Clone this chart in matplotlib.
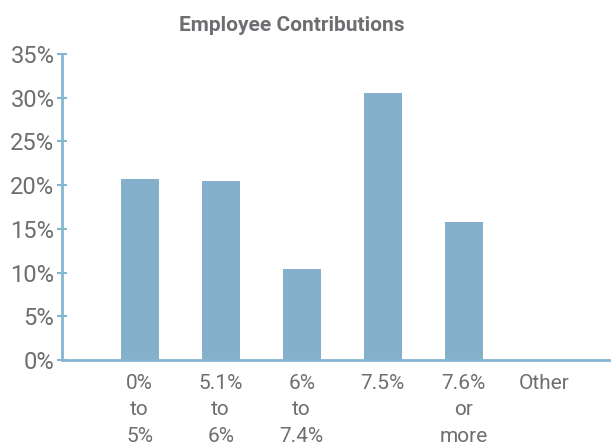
import matplotlib
matplotlib.use("Agg")
import matplotlib.pyplot as plt
import numpy as np

categories = ["0%\nto\n5%", "5.1%\nto\n6%", "6%\nto\n7.4%", "7.5%", "7.6%\nor\nmore", "Other"]
shares = [20.7, 20.5, 10.4, 30.5, 15.8, 0.0]
y_ticks = [0, 5, 10, 15, 20, 25, 30, 35]

BAR = "#84b0cb"
AXIS = "#86b5d2"
TEXT = "#6d6e71"

plt.rcParams["font.family"] = ["Roboto", "DejaVu Sans"]

fig = plt.figure(figsize=(6.11, 4.48), dpi=100)
ax = fig.add_axes([0.1015, 0.1964, 0.8985, 0.6831])

x = np.arange(len(categories))
ax.bar(x, shares, width=0.47, color=BAR)

ax.set_xlim(-0.96, 5.82)
ax.set_ylim(0, 35)
ax.set_yticks(y_ticks)
ax.set_yticklabels([f"{v}%" for v in y_ticks], fontsize=17, color=TEXT)
ax.set_xticks(x)
ax.set_xticklabels(categories, fontsize=15, color=TEXT, linespacing=1.5, va="top")

for side in ["top", "right"]:
    ax.spines[side].set_visible(False)
for side in ["left", "bottom"]:
    ax.spines[side].set_color(AXIS)
    ax.spines[side].set_linewidth(2)

ax.tick_params(axis="y", direction="inout", length=7, width=1.5, color=AXIS, pad=2)
ax.tick_params(axis="x", length=0, pad=10)

fig.text(0.478, 0.944, "Employee Contributions", ha="center", va="center",
         fontsize=15, fontweight="bold", color=TEXT)

fig.savefig("out.png", dpi=100)
